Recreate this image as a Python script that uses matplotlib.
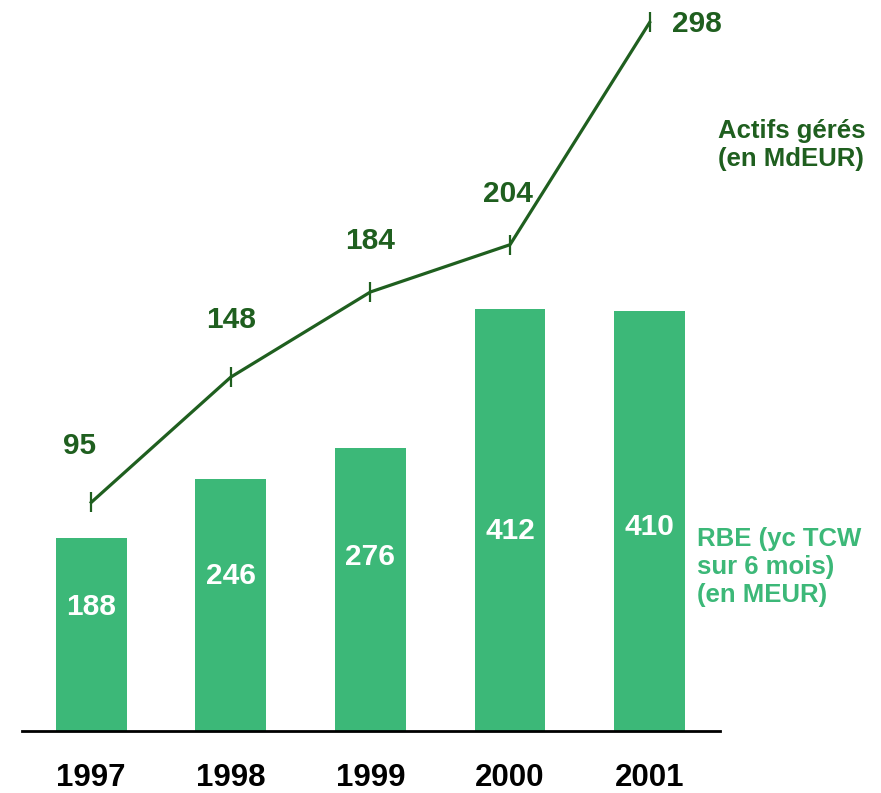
import numpy as np
import matplotlib.pyplot as plt

plt.rcParams["font.family"] = ["Liberation Sans", "DejaVu Sans"]
plt.rcParams["font.weight"] = "bold"

years = ["1997", "1998", "1999", "2000", "2001"]
rbe = [188, 246, 276, 412, 410]          # RBE (en MEUR), bars
actifs = [95, 148, 184, 204, 298]        # Actifs gérés (en MdEUR), line

BAR_GREEN = "#3cb878"
DARK_GREEN = "#1f5f1f"

# label placement, in pixels
bar_label_rise = [124, 155, 174, 200, 204]
line_label_offsets = [(-12, 56), (0, 57), (0, 51), (-2, 51), (47, -2)]

fig = plt.figure(figsize=(8.81, 7.93), dpi=100)
ax = fig.add_axes([22 / 881, 62 / 793, 698 / 881, 731 / 793])
x = np.arange(len(years))

ax.bar(x, rbe, width=0.507, color=BAR_GREEN)
ax.set_xlim(-0.496, 4.504)
ax.set_ylim(0, 713)
for side in ["top", "left", "right"]:
    ax.spines[side].set_visible(False)
ax.spines["bottom"].set_linewidth(2)
ax.set_yticks([])
ax.set_xticks(x)
ax.set_xticklabels(years, fontsize=22.5, fontweight="bold")
ax.tick_params(axis="x", length=0, pad=23)

for xi, v, rise in zip(x, rbe, bar_label_rise):
    ax.annotate(str(v), xy=(xi, 0), xytext=(0, rise), textcoords="offset pixels",
                ha="center", va="center", color="white", fontsize=21.5, fontweight="bold")

ax2 = ax.twinx()
ax2.set_ylim(-1.7, 307.5)
for side in ax2.spines:
    ax2.spines[side].set_visible(False)
ax2.set_yticks([])
ax2.plot(x, actifs, color=DARK_GREEN, lw=2.3, marker="|", markersize=14,
         markeredgewidth=1.6, clip_on=False)
for xi, v, off in zip(x, actifs, line_label_offsets):
    ax2.annotate(str(v), xy=(xi, v), xytext=off, textcoords="offset pixels",
                 ha="center", va="center", color=DARK_GREEN, fontsize=21.5,
                 fontweight="bold", annotation_clip=False)

fig.text(718 / 881, 1 - 145 / 793, "Actifs gérés\n(en MdEUR)", ha="left", va="center",
         color=DARK_GREEN, fontsize=18.5, fontweight="bold", linespacing=1.2)
fig.text(697 / 881, 1 - 567 / 793, "RBE (yc TCW\nsur 6 mois)\n(en MEUR)", ha="left",
         va="center", color=BAR_GREEN, fontsize=18.5, fontweight="bold", linespacing=1.2)

fig.savefig("out.png", dpi=100)
plt.close(fig)
